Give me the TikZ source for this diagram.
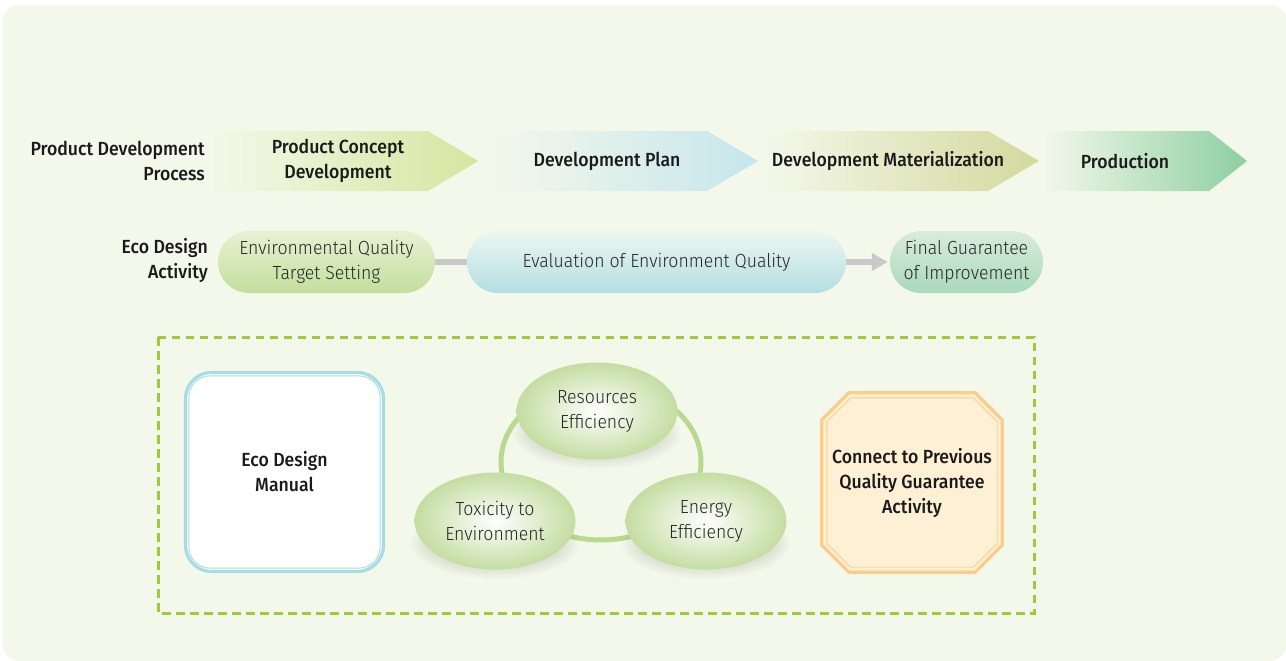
\documentclass[tikz,border=0pt]{standalone}
\usepackage{fontspec}
\setmainfont{Fira Sans}[FakeStretch=0.93, UprightFont={* Light}, BoldFont={* Medium}]
\usetikzlibrary{shapes.geometric,arrows.meta,calc}
\pgfdeclarelayer{back}
\pgfsetlayers{back,main}
\definecolor{panel}{HTML}{F4F8EB}
\definecolor{aone}{HTML}{D6E6A0}
\definecolor{atwo}{HTML}{C6E6EC}
\definecolor{athree}{HTML}{D4D99E}
\definecolor{afour}{HTML}{8DCFA1}
\definecolor{ponetop}{HTML}{E9F1D3}
\definecolor{ponebot}{HTML}{C2DE9C}
\definecolor{ptwotop}{HTML}{EEF6F0}
\definecolor{ptwobot}{HTML}{B3DEE4}
\definecolor{pthreetop}{HTML}{D9ECDB}
\definecolor{pthreebot}{HTML}{A9D9BC}
\definecolor{ring}{HTML}{B8DA90}
\definecolor{ellout}{HTML}{C4DDA2}
\definecolor{dashgreen}{HTML}{9DCB3A}
\definecolor{manblue}{HTML}{A6DCE2}
\definecolor{octfill}{HTML}{FDF0D4}
\definecolor{octline}{HTML}{FBCD8A}
\definecolor{conngray}{HTML}{C9C9C9}
\definecolor{txtdark}{HTML}{1A1A1A}
\definecolor{txtlight}{HTML}{262626}
\tikzset{
  boldtxt/.style={font=\bfseries\fontsize{19}{25}\selectfont, text=txtdark, align=center, inner sep=0pt},
  lighttxt/.style={font=\fontsize{19}{25}\selectfont, text=txtlight, align=center, inner sep=0pt},
  pill/.style={rounded corners=31pt, minimum height=62pt, inner sep=0pt, lighttxt},
  eco/.style={ellipse, minimum width=161pt, minimum height=97pt, inner sep=0pt,
     inner color=white, outer color=ellout, lighttxt},
  conn/.style={line width=6pt, draw=conngray},
  chevron/.style={left color=panel, right color=#1},
}
\begin{document}
\begin{tikzpicture}[x=1pt, y=-1pt]
\useasboundingbox (0,0) rectangle (1286,661);
\begin{pgfonlayer}{back}
\fill[white] (0,0) rectangle (1286,661);
\fill[panel, rounded corners=16pt] (3,5) rectangle (1286,661);
\end{pgfonlayer}
% chevrons
\shade[chevron=aone] (205,131) -- (428,131) -- (478,161) -- (428,191) -- (205,191) -- cycle;
\shade[chevron=atwo] (488,131) -- (707,131) -- (758,161) -- (707,191) -- (488,191) -- cycle;
\shade[chevron=athree] (762,131) -- (988,131) -- (1039,161) -- (988,191) -- (762,191) -- cycle;
\shade[chevron=afour] (1042,131) -- (1209,131) -- (1247,161) -- (1209,191) -- (1042,191) -- cycle;
\node[boldtxt, anchor=east, align=right] (pdp) at (205,161) {Product Development\\Process};
\node[boldtxt] (s1) at (338,161) {Product Concept\\Development};
\node[boldtxt] (s2) at (607,161) {Development Plan};
\node[boldtxt] (s3) at (888,161) {Development Materialization};
\node[boldtxt] (s4) at (1125,161) {Production};
% eco design activity row
\node[boldtxt, anchor=east, align=right] (eda) at (208,260) {Eco Design\\Activity};
\node[pill, top color=ponetop, bottom color=ponebot, minimum width=217pt] (p1) at (326.5,262) {Environmental Quality\\Target Setting};
\node[pill, top color=ptwotop, bottom color=ptwobot, minimum width=379pt] (p2) at (656.5,262) {Evaluation of Environment Quality};
\node[pill, top color=pthreetop, bottom color=pthreebot, minimum width=153pt] (p3) at (966.5,262) {Final Guarantee\\of Improvement};
\draw[conn] (p1.east) -- (p2.west);
\draw[conn, -{Triangle[length=16pt, width=17pt]}, shorten >=2pt] (p2.east) -- (p3.west);
% dashed frame
\draw[dashgreen, line width=3pt, dash pattern=on 8.5pt off 5.5pt] (158,337) rectangle (1034,613);
% manual
\node[draw=manblue, line width=3.2pt, fill=white, rounded corners=26pt, minimum width=198pt, minimum height=199pt, boldtxt] (man) at (284.5,472) {Eco Design\\Manual};
\draw[manblue, line width=0.9pt, rounded corners=21pt] ($(man.north west)+(5,5)$) rectangle ($(man.south east)+(-5,-5)$);
% ring + soft shadows + ellipses
\draw[ring, line width=5pt] (601,462) ellipse [x radius=100pt, y radius=78pt];
\foreach \cx/\cy in {597/411, 495/521, 706/521}{
  \foreach \k in {0,...,9}{
    \fill[black, opacity=0.014] (\cx,\cy+22) ellipse [x radius={84pt-3pt*\k}, y radius={36pt-2pt*\k}];
  }
}
\node[eco] (res) at (597,411) {Resources\\Efficiency};
\node[eco] (tox) at (495,521) {Toxicity to\\Environment};
\node[eco] (ene) at (706,521) {Energy\\Efficiency};
% octagon
\node[rectangle, minimum width=180pt, minimum height=179pt, boldtxt] (oct) at (912,482.5) {Connect to Previous\\Quality Guarantee\\Activity};
\begin{pgfonlayer}{back}
\filldraw[fill=octfill, draw=octline, line width=3.2pt]
  ($(oct.north west)+(0,27)$) -- ($(oct.north west)+(27,0)$) -- ($(oct.north east)+(-27,0)$) -- ($(oct.north east)+(0,27)$)
  -- ($(oct.south east)+(0,-27)$) -- ($(oct.south east)+(-27,0)$) -- ($(oct.south west)+(27,0)$) -- ($(oct.south west)+(0,-27)$) -- cycle;
\draw[octline, line width=0.9pt]
  ($(oct.north west)+(5,29)$) -- ($(oct.north west)+(29,5)$) -- ($(oct.north east)+(-29,5)$) -- ($(oct.north east)+(-5,29)$)
  -- ($(oct.south east)+(-5,-29)$) -- ($(oct.south east)+(-29,-5)$) -- ($(oct.south west)+(29,-5)$) -- ($(oct.south west)+(5,-29)$) -- cycle;
\end{pgfonlayer}
\end{tikzpicture}
\end{document}
